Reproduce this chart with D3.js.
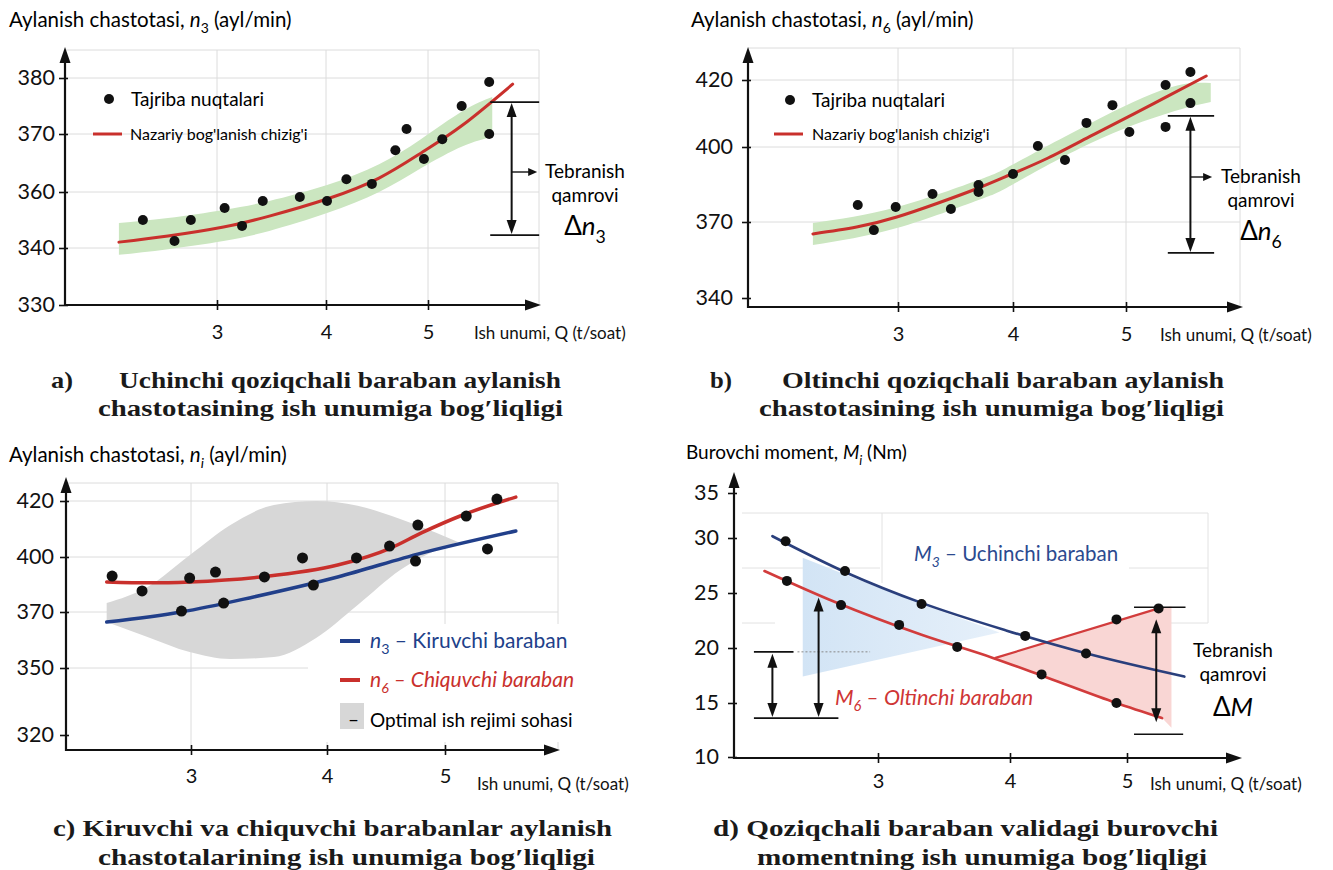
<!DOCTYPE html>
<html>
<head>
<meta charset="utf-8">
<script src="https://cdn.jsdelivr.net/npm/d3@7"></script>
<style>
  body { margin: 0; background: #fff; }
  svg { display: block; font-family: Lato, "Open Sans", sans-serif; }
</style>
</head>
<body>
<svg id="chart" width="1333" height="870"></svg>
<script>
// ---------- data ----------
const qTicks = [3, 4, 5];

// a) third drum, n3
const aYTicks = [330, 340, 360, 370, 380];
const aPointsQ = [2.32, 2.61, 2.76, 3.07, 3.23, 3.42, 3.76, 4.01, 4.20, 4.45, 4.68, 4.79, 4.96, 5.14, 5.33, 5.60, 5.60];
const aPointsN = [350, 342.5, 350, 354.3, 347.9, 356.8, 358.2, 356.8, 362.2, 361.4, 367.2, 370.9, 365.7, 369.1, 375.0, 379.3, 370.0];
const aCurveQ = [2.10, 2.55, 3.06, 3.48, 4.01, 4.52, 4.93, 5.34, 5.83];
const aCurveN = [342.1, 344.3, 347.5, 351.4, 357.5, 362.4, 366.7, 371.6, 378.9];
const aBandQ = [2.10, 2.55, 3.06, 3.48, 4.01, 4.52, 4.93, 5.34, 5.63];
const aBandLow = [338.8, 339.8, 342.5, 346.1, 352.5, 360.0, 364.1, 367.9, 369.5];
const aBandHigh = [348.9, 350.7, 353.6, 356.8, 361.2, 364.8, 369.1, 374.1, 376.6];
const aSpread = [344.6, 375.7];

// b) sixth drum, n6
const bYTicks = [340, 370, 400, 420];
const bPointsQ = [2.65, 2.79, 2.98, 3.30, 3.46, 3.70, 3.70, 4.00, 4.22, 4.46, 4.65, 4.88, 5.03, 5.35, 5.35, 5.57, 5.57];
const bPointsN = [376.8, 366.8, 376.0, 381.2, 375.2, 384.8, 382.0, 389.2, 400.3, 394.8, 407.2, 412.5, 404.5, 418.5, 406.0, 422.4, 413.1];
const bCurveQ = [2.26, 2.64, 2.99, 3.35, 3.70, 3.99, 4.31, 4.69, 5.07, 5.37, 5.71];
const bCurveN = [365.3, 368.0, 372.0, 377.6, 383.6, 389.2, 395.6, 403.3, 409.9, 415.2, 421.2];
const bBandQ = [2.26, 2.99, 3.70, 3.99, 4.69, 5.37, 5.75];
const bBandLow = [360.9, 367.6, 378.8, 384.8, 401.2, 410.1, 413.4];
const bBandHigh = [369.6, 376.0, 386.8, 392.8, 407.2, 417.6, 419.1];
const bSpread = [357.8, 409.3];

// c) input / output drums
const cYTicks = [320, 350, 370, 400, 420];
const cRedQ = [2.42, 2.64, 2.99, 3.18, 3.54, 3.82, 4.25, 4.53, 4.77, 5.18, 5.44];
const cRedN = [389.6, 381.5, 388.5, 391.8, 389.1, 399.5, 399.5, 403.9, 411.4, 414.6, 420.7];
const cBlueQ = [2.93, 3.24, 3.90, 4.75, 5.36];
const cBlueN = [370.5, 374.9, 384.7, 397.8, 402.9];
const cRedLineQ = [2.38, 2.70, 2.99, 3.51, 4.09, 4.54, 4.80, 5.15, 5.60];
const cRedLineN = [386.4, 385.9, 386.4, 389.1, 395.6, 403.2, 408.6, 415.0, 421.4];
const cBlueLineQ = [2.38, 2.93, 3.46, 4.09, 4.80, 5.60];
const cBlueLineN = [366.4, 370.0, 378.2, 389.1, 401.4, 409.3];
const cZoneQ = [2.38, 2.68, 2.99, 3.29, 3.61, 3.92, 4.26, 4.62, 4.93, 5.11];
const cZoneHigh = [374.9, 383.6, 400.6, 411.4, 418.6, 420.0, 418.3, 413.6, 408.6, 405.4];
const cZoneLow = [366.4, 361.1, 355.7, 353.2, 353.9, 360.7, 373.8, 392.9, 402.5, 405.4];

// d) torque
const dYTicks = [10, 15, 20, 25, 30, 35];
const dM3Q = [2.30, 2.75, 3.33, 4.13, 4.65];
const dM3 = [29.7, 27.0, 24.0, 21.1, 19.5];
const dM6Q = [2.31, 2.72, 3.16, 3.60, 4.27, 4.91];
const dM6 = [26.1, 23.9, 22.1, 20.1, 17.6, 15.0];
const dRiseQ = [4.91, 5.27];
const dRise = [22.6, 23.6];
const dM3LineQ = [2.20, 2.77, 3.33, 3.97, 4.69, 5.49];
const dM3Line = [30.2, 26.8, 24.1, 21.6, 19.4, 17.4];
const dM6LineQ = [2.14, 2.67, 3.33, 3.87, 4.32, 4.91, 5.30];
const dM6Line = [27.0, 24.2, 21.2, 19.1, 17.3, 15.0, 13.6];
const dRiseLineQ = [3.89, 5.27];
const dRiseLine = [19.1, 23.6];
const dBlueZoneQ = [2.43, 2.77, 3.33, 3.92, 2.43];
const dBlueZoneM = [28.2, 26.6, 24.0, 21.4, 17.4];
const dRedZoneQ = [3.89, 5.27, 5.38, 5.38, 5.30, 4.91, 4.32];
const dRedZoneM = [19.1, 23.6, 23.8, 12.7, 13.6, 15.0, 17.3];
const dSpreadLeft = [13.6, 19.65];
const dSpreadMid = [13.6, 24.6];
const dSpreadRight = [12.1, 23.7];

// ---------- layout ----------
const layoutA = { yTicks: aYTicks, xr: [217, 326, 428], yr: [305, 248, 192, 134, 78],
  ox: 65, oy: 305, top: 47, right: 541, gridTop: 50, gridRight: 539, yPad: 4, xPad: 15 };
const layoutB = { yTicks: bYTicks, xr: [898, 1013, 1126], yr: [298, 222, 147, 80],
  ox: 748, oy: 307, top: 47, right: 1243, gridTop: 48, gridRight: 1240, yPad: 9, xPad: 15 };
const layoutC = { yTicks: cYTicks, xr: [191, 327, 445], yr: [735, 668, 612, 557, 501],
  ox: 66, oy: 750, top: 477, right: 560, gridTop: 483, gridRight: 558, yPad: 6, xPad: 14 };
const layoutD = { yTicks: dYTicks, xr: [878, 1010, 1127], yr: [757, 703, 648, 593, 538, 493],
  ox: 734, oy: 758, top: 472, right: 1242, yPad: 9, xPad: 11 };

const RED = '#c9302c', BLUE = '#213f8a', INK = '#111';
const svg = d3.select('#chart');
const zip = (a, b) => a.map((v, i) => [v, b[i]]);

function makePanel(L) {
  const x = d3.scaleLinear().domain(qTicks).range(L.xr);
  const y = d3.scaleLinear().domain(L.yTicks).range(L.yr);
  return { g: svg.append('g'), x, y, L };
}

function grid(p, yLines) {
  const { g, x, y, L } = p;
  const gg = g.append('g').attr('stroke', '#dcdcdc').attr('stroke-width', 1);
  yLines.forEach(v => gg.append('line').attr('x1', L.ox).attr('x2', L.gridRight).attr('y1', y(v)).attr('y2', y(v)));
  qTicks.forEach(v => gg.append('line').attr('x1', x(v)).attr('x2', x(v)).attr('y1', L.gridTop).attr('y2', L.oy));
  gg.append('line').attr('x1', L.ox).attr('x2', L.gridRight).attr('y1', L.gridTop).attr('y2', L.gridTop);
  gg.append('line').attr('x1', L.gridRight).attr('x2', L.gridRight).attr('y1', L.gridTop).attr('y2', L.oy);
}

function axes(p) {
  const { g, x, y, L } = p;
  const ya = g.append('g').attr('transform', `translate(${L.ox},0)`)
    .call(d3.axisLeft(y).tickValues(L.yTicks).tickSize(6).tickPadding(L.yPad));
  const xa = g.append('g').attr('transform', `translate(0,${L.oy})`)
    .call(d3.axisBottom(x).tickValues(qTicks).tickFormat(d3.format('d')).tickSize(5).tickPadding(L.xPad));
  [ya, xa].forEach(a => {
    a.select('.domain').remove();
    a.attr('font-family', null).attr('font-size', null);
    a.selectAll('.tick line').attr('stroke', INK).attr('stroke-width', 1.6);
    a.selectAll('text').attr('fill', INK);
  });
  ya.selectAll('.tick line').attr('x1', 3);
  ya.selectAll('text').attr('font-size', 21.5);
  xa.selectAll('.tick line').attr('y1', -5);
  xa.selectAll('text').attr('font-size', 20);

  g.append('line').attr('x1', L.ox).attr('x2', L.ox).attr('y1', L.oy + 1).attr('y2', L.top + 12)
    .attr('stroke', INK).attr('stroke-width', 2.2);
  g.append('line').attr('x1', L.ox - 1).attr('x2', L.right - 12).attr('y1', L.oy).attr('y2', L.oy)
    .attr('stroke', INK).attr('stroke-width', 2.2);
  g.append('path').attr('fill', INK)
    .attr('d', `M${L.ox},${L.top}L${L.ox - 5.5},${L.top + 16}L${L.ox + 5.5},${L.top + 16}Z`);
  g.append('path').attr('fill', INK)
    .attr('d', `M${L.right},${L.oy}L${L.right - 16},${L.oy - 5.5}L${L.right - 16},${L.oy + 5.5}Z`);
}

function dots(p, qs, vs, r) {
  p.g.append('g').selectAll('circle').data(zip(qs, vs)).join('circle')
    .attr('cx', d => p.x(d[0])).attr('cy', d => p.y(d[1])).attr('r', r).attr('fill', INK);
}

function curve(p, qs, vs, color, w, kind) {
  const line = d3.line().x(d => p.x(d[0])).y(d => p.y(d[1])).curve(kind || d3.curveMonotoneX);
  p.g.append('path').datum(zip(qs, vs)).attr('d', line)
    .attr('fill', 'none').attr('stroke', color).attr('stroke-width', w).attr('stroke-linecap', 'round');
}

function band(p, qs, lo, hi, color, kind) {
  const area = d3.area().x(d => p.x(d.q)).y0(d => p.y(d.lo)).y1(d => p.y(d.hi)).curve(kind || d3.curveMonotoneX);
  p.g.append('path').datum(qs.map((q, i) => ({ q, lo: lo[i], hi: hi[i] })))
    .attr('d', area).attr('fill', color);
}

function polygon(p, qs, vs, fill) {
  const line = d3.line().x(d => p.x(d[0])).y(d => p.y(d[1]));
  p.g.append('path').datum(zip(qs, vs)).attr('d', d => line(d) + 'Z').attr('fill', fill);
}

// rich text: parts are strings or [text, flags] with flags 'i' (italic) and 's' (subscript)
function rich(g, x, y, parts, size, attrs) {
  const t = g.append('text').attr('x', x).attr('y', y).attr('font-size', size);
  Object.entries(attrs || {}).forEach(([k, v]) => t.attr(k, v));
  let shift = 0;
  parts.forEach(part => {
    const [str, flags] = typeof part === 'string' ? [part, ''] : part;
    const ts = t.append('tspan').text(str);
    const want = flags.includes('s') ? size * 0.3 : 0;
    if (want !== shift) { ts.attr('dy', want - shift); shift = want; }
    if (flags.includes('i')) ts.attr('font-style', 'italic');
    if (flags.includes('s')) ts.attr('font-size', size * 0.68);
  });
  return t;
}

function vArrow(g, x, y1, y2) {
  // double-headed vertical arrow between y1 (top) and y2 (bottom)
  g.append('line').attr('x1', x).attr('x2', x).attr('y1', y1 + 10).attr('y2', y2 - 10)
    .attr('stroke', INK).attr('stroke-width', 2);
  g.append('path').attr('fill', INK).attr('d', `M${x},${y1}L${x - 5},${y1 + 14}L${x + 5},${y1 + 14}Z`);
  g.append('path').attr('fill', INK).attr('d', `M${x},${y2}L${x - 5},${y2 - 14}L${x + 5},${y2 - 14}Z`);
}

function hLine(g, x1, x2, y, w) {
  g.append('line').attr('x1', x1).attr('x2', x2).attr('y1', y).attr('y2', y)
    .attr('stroke', INK).attr('stroke-width', w || 1.6);
}

function rightArrow(g, x1, x2, y) {
  g.append('line').attr('x1', x1).attr('x2', x2 - 6).attr('y1', y).attr('y2', y).attr('stroke', INK).attr('stroke-width', 1.4);
  g.append('path').attr('fill', INK).attr('d', `M${x2},${y}L${x2 - 9},${y - 4}L${x2 - 9},${y + 4}Z`);
}

function spreadNote(p, q, q0, q1, spread, textX, textY, sub) {
  const { g, x, y } = p;
  const yT = y(spread[1]), yB = y(spread[0]);
  hLine(g, x(q0), x(q1), yT);
  hLine(g, x(q0), x(q1), yB);
  vArrow(g, x(q), yT + 1, yB - 1);
  rightArrow(g, x(q), x(q1) - 2, textY - 6);
  g.append('text').attr('x', textX).attr('y', textY).attr('font-size', 19).attr('text-anchor', 'middle').text('Tebranish');
  g.append('text').attr('x', textX).attr('y', textY + 24).attr('font-size', 19).attr('text-anchor', 'middle').text('qamrovi');
  rich(g, textX, textY + 57, ['Δ', ['n', 'i'], [sub, 's']], 26, { 'text-anchor': 'middle' });
}

function xLabel(p, x, y) {
  p.g.append('text').attr('x', x).attr('y', y).attr('font-size', 17).attr('fill', INK).text('Ish unumi, Q (t/soat)');
}

// ---------- panel a ----------
const pa = makePanel(layoutA);
grid(pa, [340, 360, 370, 380]);
band(pa, aBandQ, aBandLow, aBandHigh, '#cbe6c0', d3.curveNatural);
curve(pa, aCurveQ, aCurveN, RED, 3, d3.curveNatural);
dots(pa, aPointsQ, aPointsN, 5);
axes(pa);
rich(pa.g, 9, 27, ['Aylanish chastotasi, ', ['n', 'i'], ['3', 's'], ' (ayl/min)'], 20.5);
xLabel(pa, 474, 339);
pa.g.append('circle').attr('cx', 109).attr('cy', 99).attr('r', 5).attr('fill', INK);
pa.g.append('text').attr('x', 131).attr('y', 106).attr('font-size', 19).text('Tajriba nuqtalari');
pa.g.append('line').attr('x1', 93).attr('x2', 122).attr('y1', 134).attr('y2', 134).attr('stroke', RED).attr('stroke-width', 3);
pa.g.append('text').attr('x', 130).attr('y', 140).attr('font-size', 16).text("Nazariy bog'lanish chizig'i");
spreadNote(pa, 5.82, 5.61, 6.09, aSpread, 585, 178, '3');

// ---------- panel b ----------
const pb = makePanel(layoutB);
grid(pb, [370, 400, 420]);
band(pb, bBandQ, bBandLow, bBandHigh, '#cbe6c0', d3.curveNatural);
curve(pb, bCurveQ, bCurveN, RED, 3, d3.curveNatural);
dots(pb, bPointsQ, bPointsN, 5);
axes(pb);
rich(pb.g, 691, 27, ['Aylanish chastotasi, ', ['n', 'i'], ['6', 's'], ' (ayl/min)'], 20.5);
xLabel(pb, 1160, 341);
pb.g.append('circle').attr('cx', 790).attr('cy', 100).attr('r', 5).attr('fill', INK);
pb.g.append('text').attr('x', 812).attr('y', 107).attr('font-size', 19).text('Tajriba nuqtalari');
pb.g.append('line').attr('x1', 774).attr('x2', 803).attr('y1', 134).attr('y2', 134).attr('stroke', RED).attr('stroke-width', 3);
pb.g.append('text').attr('x', 812).attr('y', 140).attr('font-size', 16).text("Nazariy bog'lanish chizig'i");
spreadNote(pb, 5.57, 5.37, 5.78, bSpread, 1261, 183, '6');

// ---------- panel c ----------
const pc = makePanel(layoutC);
grid(pc, [350, 370, 400, 420]);
// legend box sits over the grid, under the optimal zone
pc.g.append('rect').attr('x', 308).attr('y', 624).attr('width', 272).attr('height', 118).attr('fill', '#fff');
band(pc, cZoneQ, cZoneLow, cZoneHigh, '#d7d7d7');
curve(pc, cBlueLineQ, cBlueLineN, BLUE, 3.5);
curve(pc, cRedLineQ, cRedLineN, RED, 3.5);
dots(pc, cRedQ, cRedN, 5.5);
dots(pc, cBlueQ, cBlueN, 5.5);
axes(pc);
rich(pc.g, 9, 462, ['Aylanish chastotasi, ', ['n', 'i'], ['i', 'is'], ' (ayl/min)'], 20.5);
xLabel(pc, 477, 790);
pc.g.append('line').attr('x1', 340).attr('x2', 360).attr('y1', 641).attr('y2', 641).attr('stroke', BLUE).attr('stroke-width', 4);
rich(pc.g, 370, 648, [['n', 'i'], ['3', 's'], ' – Kiruvchi baraban'], 21, { fill: BLUE });
pc.g.append('line').attr('x1', 340).attr('x2', 360).attr('y1', 680).attr('y2', 680).attr('stroke', RED).attr('stroke-width', 4);
rich(pc.g, 370, 687, [['n', 'i'], ['6', 'is'], [' – Chiquvchi baraban', 'i']], 21, { fill: RED });
pc.g.append('rect').attr('x', 340).attr('y', 703).attr('width', 24).attr('height', 26).attr('fill', '#d7d7d7');
pc.g.append('text').attr('x', 348).attr('y', 726).attr('font-size', 19).text('–');
pc.g.append('text').attr('x', 370).attr('y', 727).attr('font-size', 19).text('Optimal ish rejimi sohasi');

// ---------- panel d ----------
const pd = makePanel(layoutD);
const dGrid = pd.g.append('g').attr('stroke', '#e2e2e2').attr('stroke-width', 1);
[[742, 1208, 513, 513], [1208, 1208, 513, 623], [882, 882, 513, 583], [742, 880, 568, 568],
 [1129, 1208, 568, 568], [742, 775, 623, 623], [1129, 1208, 623, 623]].forEach(s =>
  dGrid.append('line').attr('x1', s[0]).attr('x2', s[1]).attr('y1', s[2]).attr('y2', s[3]));
const grad = svg.append('defs').append('linearGradient').attr('id', 'blueFade');
grad.append('stop').attr('offset', '0%').attr('stop-color', '#d2e4f5');
grad.append('stop').attr('offset', '100%').attr('stop-color', '#e6f0fa');
polygon(pd, dBlueZoneQ, dBlueZoneM, 'url(#blueFade)');
polygon(pd, dRedZoneQ, dRedZoneM, '#f9d6d4');
curve(pd, dM6LineQ, dM6Line, '#d23c3c', 2.6);
curve(pd, dRiseLineQ, dRiseLine, '#d23c3c', 2.2, d3.curveLinear);
curve(pd, dM3LineQ, dM3Line, '#2a3f7c', 2.6);
dots(pd, dM3Q, dM3, 5);
dots(pd, dM6Q, dM6, 5);
dots(pd, dRiseQ, dRise, 5);
axes(pd);
rich(pd.g, 686, 459, ['Burovchi moment, ', ['M', 'i'], ['i', 'is'], ' (Nm)'], 19);
xLabel(pd, 1150, 790);
rich(pd.g, 914, 561, [['M', 'i'], ['3', 'is'], ' – Uchinchi baraban'], 20.5, { fill: '#2b4a8f' });
rich(pd.g, 835, 705, [['M', 'i'], ['6', 'is'], [' – Oltinchi baraban', 'i']], 21.5, { fill: '#cf3535' });
// spread marks on the left
const xd = pd.x, yd = pd.y;
hLine(pd.g, xd(2.06), xd(2.36), yd(dSpreadLeft[1]));
pd.g.append('line').attr('x1', xd(2.39)).attr('x2', xd(2.94)).attr('y1', yd(dSpreadLeft[1])).attr('y2', yd(dSpreadLeft[1]))
  .attr('stroke', '#888').attr('stroke-width', 1).attr('stroke-dasharray', '2,2');
hLine(pd.g, xd(2.06), xd(2.70), yd(dSpreadLeft[0]));
vArrow(pd.g, xd(2.20), yd(dSpreadLeft[1]) + 2, yd(dSpreadLeft[0]) - 1);
vArrow(pd.g, xd(2.55), yd(dSpreadMid[1]), yd(dSpreadMid[0]) - 1);
// spread marks on the right
hLine(pd.g, xd(5.06), xd(5.50), yd(dSpreadRight[1]));
hLine(pd.g, xd(5.06), xd(5.48), yd(dSpreadRight[0]));
vArrow(pd.g, xd(5.25), yd(dSpreadRight[1]) + 12, yd(dSpreadRight[0]) - 12);
pd.g.append('text').attr('x', 1233).attr('y', 657).attr('font-size', 19).attr('text-anchor', 'middle').text('Tebranish');
pd.g.append('text').attr('x', 1233).attr('y', 681).attr('font-size', 19).attr('text-anchor', 'middle').text('qamrovi');
rich(pd.g, 1233, 716, ['Δ', ['M', 'i']], 26, { 'text-anchor': 'middle' });

// ---------- captions ----------
const cap = svg.append('g').attr('font-family', '"Liberation Serif", "DejaVu Serif", serif')
  .attr('font-weight', 'bold').attr('font-size', 24).attr('fill', '#1a1a1a');
function capLine(x, y, w, str) {
  cap.append('text').attr('x', x).attr('y', y).attr('textLength', w).attr('lengthAdjust', 'spacingAndGlyphs').text(str);
}
capLine(51, 388, 22, 'a)');
capLine(119, 388, 442, 'Uchinchi qoziqchali baraban aylanish');
capLine(98, 416, 465, 'chastotasining ish unumiga bog′liqligi');
capLine(710, 388, 22, 'b)');
capLine(782, 388, 442, 'Oltinchi qoziqchali baraban aylanish');
capLine(759, 416, 465, 'chastotasining ish unumiga bog′liqligi');
capLine(53, 836, 559, 'c) Kiruvchi va chiquvchi barabanlar aylanish');
capLine(98, 865, 497, 'chastotalarining ish unumiga bog′liqligi');
capLine(713, 836, 505, 'd) Qoziqchali baraban validagi burovchi');
capLine(757, 865, 450, 'momentning ish unumiga bog′liqligi');
</script>
</body>
</html>
